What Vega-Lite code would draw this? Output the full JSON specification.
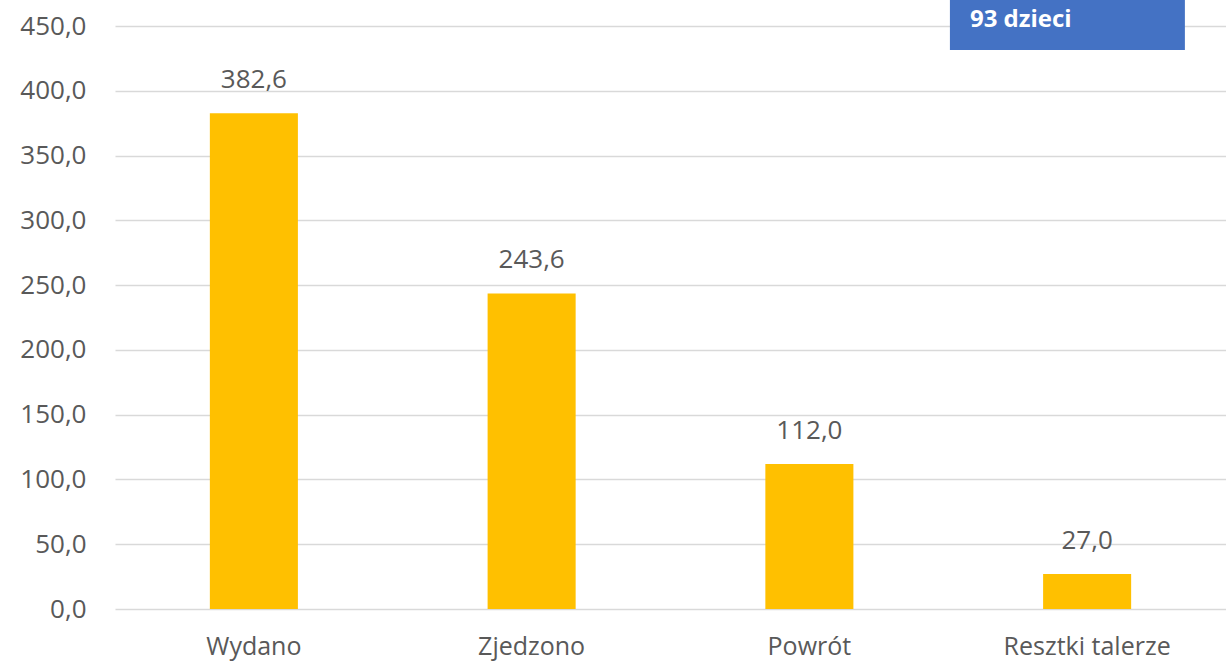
{
  "$schema": "https://vega.github.io/schema/vega-lite/v6.json",
  "width": 1111,
  "height": 583,
  "autosize": {"type": "none"},
  "padding": {"left": 115, "top": 26, "right": 0, "bottom": 57},
  "background": "white",
  "config": {
    "view": {"stroke": null},
    "locale": {"number": {"decimal": ",", "thousands": " ", "grouping": [3], "currency": ["", " zł"]}},
    "font": "Open Sans"
  },
  "datasets": {
    "bars": [
      {"kategoria": "Wydano", "wartosc": 382.6},
      {"kategoria": "Zjedzono", "wartosc": 243.6},
      {"kategoria": "Powrót", "wartosc": 112.0},
      {"kategoria": "Resztki talerze", "wartosc": 27.0}
    ],
    "note": [{"tekst": "93 dzieci"}]
  },
  "resolve": {"scale": {"x": "independent"}},
  "layer": [
    {
      "data": {"name": "bars"},
      "mark": {"type": "bar", "color": "#FFC000"},
      "encoding": {
        "x": {
          "field": "kategoria", "type": "nominal", "sort": null,
          "scale": {"paddingInner": 0.683, "paddingOuter": 0.3415},
          "axis": {"title": null, "domain": false, "ticks": false, "labelAngle": 0, "labelPadding": 25, "labelFontSize": 25, "labelColor": "#595959", "labelFont": "Open Sans"}
        },
        "y": {
          "field": "wartosc", "type": "quantitative",
          "scale": {"domain": [0, 450], "nice": false},
          "axis": {"title": null, "values": [0, 50, 100, 150, 200, 250, 300, 350, 400, 450], "format": ".1f", "domain": false, "ticks": false, "labelPadding": 29, "labelFontSize": 26, "labelColor": "#595959", "labelFont": "Open Sans", "gridColor": "#d9d9d9", "gridWidth": 1.5}
        }
      }
    },
    {
      "data": {"name": "bars"},
      "mark": {"type": "text", "baseline": "alphabetic", "dy": -25, "fontSize": 26, "color": "#595959", "font": "Open Sans"},
      "encoding": {
        "x": {"field": "kategoria", "type": "nominal", "sort": null, "scale": {"paddingInner": 0.683, "paddingOuter": 0.3415}, "axis": null},
        "y": {"field": "wartosc", "type": "quantitative"},
        "text": {"field": "wartosc", "type": "quantitative", "format": ".1f"}
      }
    },
    {
      "data": {"name": "note"},
      "mark": {"type": "rect", "color": "#4472C4"},
      "encoding": {
        "x": {"datum": 3.006, "type": "quantitative", "scale": {"domain": [0, 4], "nice": false, "zero": false}, "axis": null},
        "x2": {"datum": 3.852},
        "y": {"datum": 431.5, "type": "quantitative"},
        "y2": {"datum": 470.1}
      }
    },
    {
      "data": {"name": "note"},
      "mark": {"type": "text", "align": "left", "baseline": "alphabetic", "fontSize": 24, "fontWeight": "bold", "color": "white", "font": "Open Sans"},
      "encoding": {
        "x": {"datum": 3.078, "type": "quantitative", "scale": {"domain": [0, 4], "nice": false, "zero": false}, "axis": null},
        "y": {"datum": 449.0, "type": "quantitative"},
        "text": {"field": "tekst"}
      }
    }
  ]
}
